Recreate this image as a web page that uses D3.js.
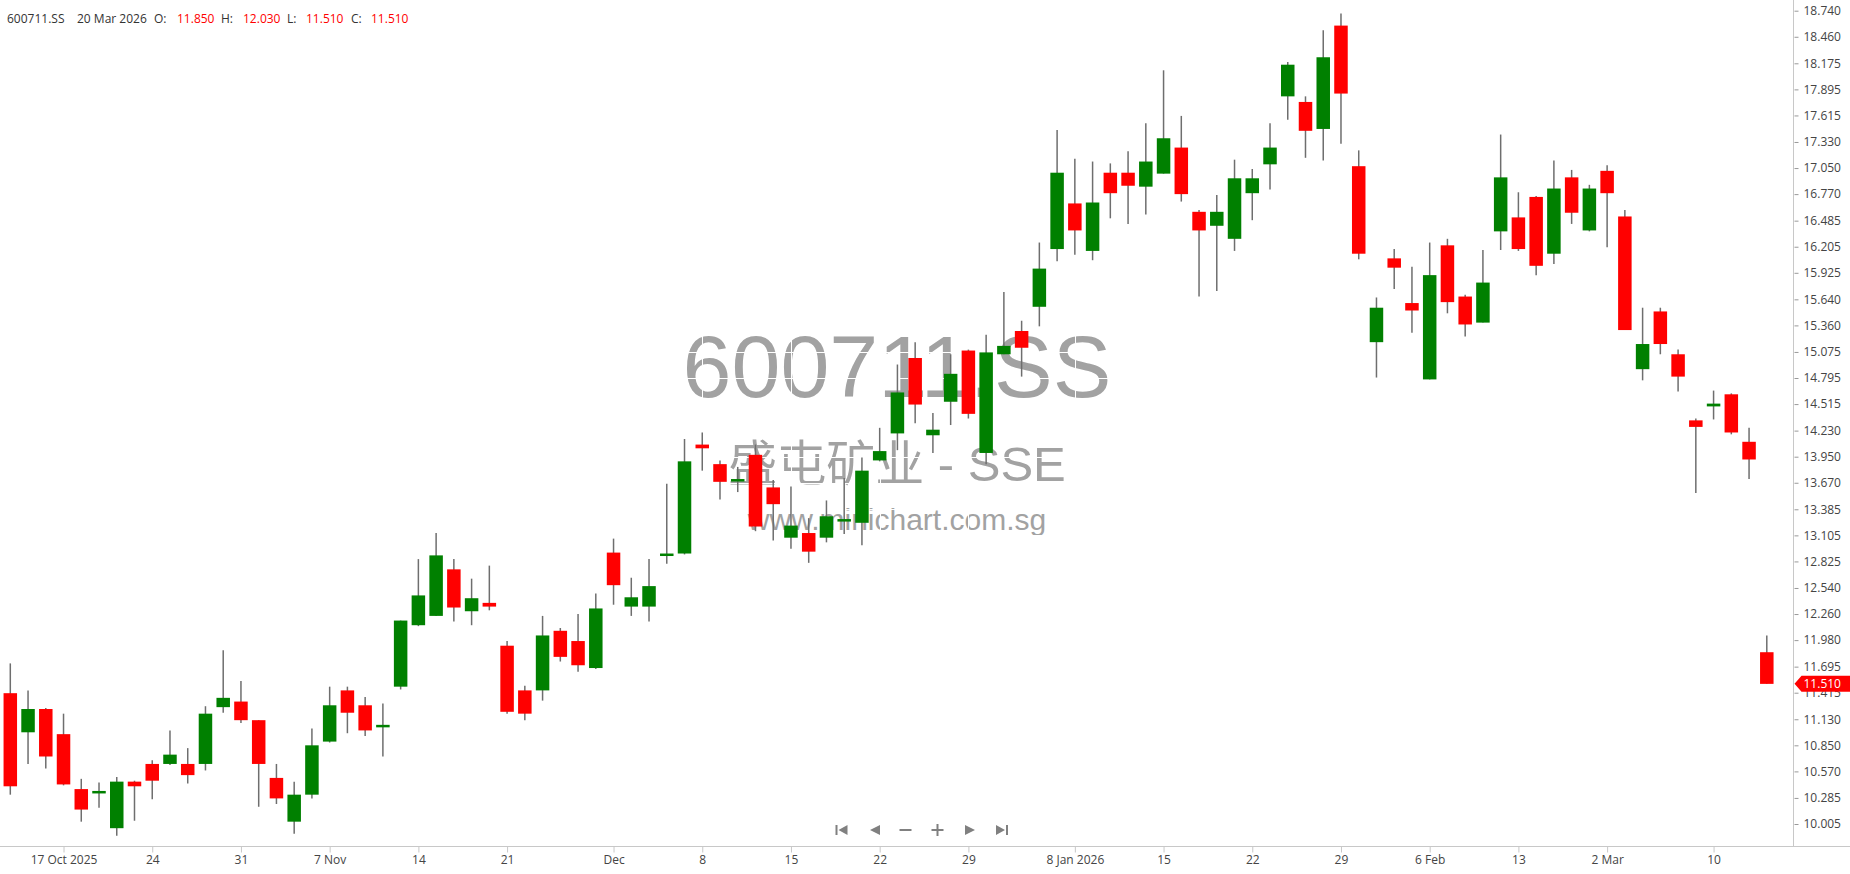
<!DOCTYPE html>
<html>
<head>
<meta charset="utf-8">
<script src="https://cdn.jsdelivr.net/npm/d3@7"></script>
<style>
  body { margin: 0; background: #fff; }
  svg { display: block; font-family: "Open Sans", sans-serif; }
</style>
</head>
<body>
<svg></svg>
<script>
const symbol = "600711.SS";
const lastDate = "20 Mar 2026";
const companyName = "盛屯矿业 - SSE";
const siteName = "www.minichart.com.sg";

// daily OHLC, oldest first (14 Oct 2025 .. 20 Mar 2026)
const open = [
  11.41, 10.99, 11.24, 10.97, 10.38, 10.34, 9.96, 10.46, 10.65, 10.65,
  10.65, 10.65, 11.26, 11.32, 11.12, 10.50, 10.03, 10.32, 10.89, 11.44,
  11.28, 11.05, 11.48, 12.14, 12.24, 12.74, 12.29, 12.38, 11.92, 11.44,
  11.44, 12.08, 11.97, 11.68, 12.92, 12.34, 12.34, 12.89, 12.91, 14.08,
  13.87, 13.69, 13.97, 13.62, 13.08, 13.13, 13.08, 13.26, 13.24, 13.91,
  14.20, 15.01, 14.18, 14.54, 15.09, 13.99, 15.05, 15.30, 15.56, 16.18,
  16.67, 16.16, 17.00, 17.00, 16.85, 16.99, 17.27, 16.58, 16.43, 16.29,
  16.78, 17.09, 17.82, 17.76, 17.47, 18.58, 17.07, 15.18, 16.08, 15.60,
  14.78, 16.22, 15.67, 15.39, 16.37, 16.52, 16.74, 16.13, 16.95, 16.38,
  17.02, 16.53, 14.89, 15.51, 15.05, 14.34, 14.49, 14.62, 14.11, 11.85
];
const high = [
  11.73, 11.44, 11.25, 11.19, 10.49, 10.45, 10.51, 10.47, 10.69, 11.01,
  10.82, 11.27, 11.87, 11.54, 11.12, 10.65, 10.46, 11.03, 11.48, 11.48,
  11.37, 11.30, 12.19, 12.85, 13.13, 12.85, 12.64, 12.78, 11.97, 11.49,
  12.24, 12.11, 12.26, 12.48, 13.07, 12.65, 12.85, 13.66, 14.14, 14.21,
  13.91, 13.84, 14.08, 13.70, 13.63, 13.29, 13.48, 13.72, 13.94, 14.26,
  14.94, 15.18, 14.42, 15.05, 15.10, 15.26, 15.72, 15.41, 16.25, 17.46,
  17.15, 17.12, 17.10, 17.23, 17.53, 18.10, 17.61, 16.60, 16.76, 17.14,
  17.04, 17.53, 18.19, 17.82, 18.53, 18.71, 17.24, 15.66, 16.18, 15.99,
  16.25, 16.29, 15.69, 16.17, 17.41, 16.79, 16.75, 17.13, 17.03, 16.87,
  17.08, 16.60, 15.55, 15.55, 15.10, 14.36, 14.66, 14.63, 14.26, 12.03
];
const low = [
  10.32, 10.65, 10.60, 10.42, 10.03, 10.18, 9.88, 10.04, 10.27, 10.64,
  10.44, 10.58, 11.20, 11.09, 10.19, 10.22, 9.90, 10.28, 10.88, 10.98,
  10.95, 10.73, 11.45, 12.13, 12.24, 12.18, 12.14, 12.30, 11.19, 11.12,
  11.33, 11.75, 11.64, 11.67, 12.36, 12.24, 12.18, 12.80, 12.90, 13.80,
  13.49, 13.57, 13.15, 13.05, 12.96, 12.81, 13.03, 13.12, 13.00, 13.90,
  14.02, 14.31, 13.99, 14.29, 14.36, 13.87, 15.05, 14.81, 15.35, 16.05,
  16.12, 16.06, 16.51, 16.45, 16.55, 16.99, 16.69, 15.67, 15.73, 16.16,
  16.49, 16.82, 17.57, 17.16, 17.13, 17.31, 16.07, 14.80, 15.75, 15.28,
  14.78, 15.49, 15.24, 15.39, 16.17, 16.16, 15.90, 16.02, 16.45, 16.37,
  16.20, 15.31, 14.77, 15.05, 14.65, 13.56, 14.35, 14.19, 13.71, 11.51
];
const close = [
  10.41, 11.24, 10.73, 10.43, 10.16, 10.36, 10.46, 10.41, 10.47, 10.75,
  10.53, 11.19, 11.36, 11.12, 10.65, 10.28, 10.32, 10.85, 11.28, 11.20,
  11.01, 11.07, 12.19, 12.46, 12.89, 12.33, 12.43, 12.34, 11.21, 11.19,
  12.03, 11.80, 11.71, 12.32, 12.57, 12.44, 12.56, 12.91, 13.90, 14.04,
  13.68, 13.71, 13.20, 13.44, 13.21, 12.93, 13.31, 13.28, 13.80, 14.01,
  14.64, 14.51, 14.24, 14.84, 14.41, 15.07, 15.14, 15.12, 15.97, 17.00,
  16.38, 16.68, 16.78, 16.86, 17.12, 17.37, 16.77, 16.38, 16.58, 16.94,
  16.94, 17.27, 18.16, 17.45, 18.24, 17.85, 16.13, 15.55, 15.98, 15.52,
  15.90, 15.61, 15.37, 15.82, 16.95, 16.18, 16.00, 16.83, 16.57, 16.83,
  16.78, 15.31, 15.16, 15.16, 14.81, 14.27, 14.52, 14.21, 13.92, 11.51
];

const yTickLabels = [
  "18.740", "18.460", "18.175", "17.895", "17.615", "17.330", "17.050", "16.770",
  "16.485", "16.205", "15.925", "15.640", "15.360", "15.075", "14.795", "14.515",
  "14.230", "13.950", "13.670", "13.385", "13.105", "12.825", "12.540", "12.260",
  "11.980", "11.695", "11.415", "11.130", "10.850", "10.570", "10.285", "10.005"
];
// x ticks: candle index and its label
const xTickIndex = [3, 8, 13, 18, 23, 28, 34, 39, 44, 49, 54, 60, 65, 70, 75, 80, 85, 90, 96];
const xTickLabels = [
  "17 Oct 2025", "24", "31", "7 Nov", "14", "21", "Dec", "8", "15", "22",
  "29", "8 Jan 2026", "15", "22", "29", "6 Feb", "13", "2 Mar", "10"
];

const candles = open.map((o, i) => ({ i, o, h: high[i], l: low[i], c: close[i] }));
const last = candles[candles.length - 1];

const width = 1850;
const height = 874;
const axisX = 1793.5;
const axisY = 846.5;

const up = "#008000";
const down = "#ff0000";

const svg = d3.select("svg").attr("width", width).attr("height", height);

const x = d3.scaleLinear().domain([0, candles.length - 1]).range([10.3, 1766.8]);
const yVals = yTickLabels.map(Number);
const y = d3.scaleLinear()
  .domain([d3.min(yVals), d3.max(yVals)])
  .range([824, 10.7]);

// watermark
const wm = svg.append("g").attr("fill", "#a2a2a2").attr("text-anchor", "middle");
wm.append("text")
  .attr("x", 897).attr("y", 397)
  .style("font-family", "'Liberation Sans', Arial, sans-serif")
  .style("font-size", "88px")
  .text(symbol);
wm.append("text")
  .attr("x", 897).attr("y", 481)
  .style("font-family", "'Liberation Sans', 'Noto Sans CJK SC', sans-serif")
  .style("font-size", "49px")
  .text(companyName);
wm.append("text")
  .attr("x", 897).attr("y", 530)
  .style("font-family", "'Liberation Sans', Arial, sans-serif")
  .style("font-size", "30px")
  .text(siteName);

// white grid (only visible over the watermark)
const grid = svg.append("g").attr("stroke", "#fff").attr("stroke-width", 1);
grid.selectAll(".gy").data(yVals).join("line")
  .attr("x1", 0).attr("x2", axisX)
  .attr("y1", (d) => Math.round(y(d)) + 0.5).attr("y2", (d) => Math.round(y(d)) + 0.5);
grid.selectAll(".gx").data(xTickIndex).join("line")
  .attr("y1", 0).attr("y2", axisY)
  .attr("x1", (d) => Math.round(x(d)) + 0.5).attr("x2", (d) => Math.round(x(d)) + 0.5);

// candles
const bodyW = 13.5;
const cg = svg.append("g");
cg.selectAll(".wick").data(candles).join("line")
  .attr("class", "wick")
  .attr("x1", (d) => x(d.i)).attr("x2", (d) => x(d.i))
  .attr("y1", (d) => y(d.h)).attr("y2", (d) => y(d.l))
  .attr("stroke", "#6e6e6e")
  .attr("stroke-width", 1.5);
cg.selectAll(".body").data(candles).join("rect")
  .attr("class", "body")
  .attr("x", (d) => x(d.i) - bodyW / 2)
  .attr("width", bodyW)
  .attr("y", (d) => y(Math.max(d.o, d.c)))
  .attr("height", (d) => Math.max(Math.abs(y(d.o) - y(d.c)), 2.5))
  .attr("fill", (d) => (d.c >= d.o ? up : down));

// axes frame
svg.append("line")
  .attr("x1", axisX).attr("x2", axisX).attr("y1", 0).attr("y2", axisY)
  .attr("stroke", "#c8c8c8");
svg.append("line")
  .attr("x1", 0).attr("x2", width).attr("y1", axisY).attr("y2", axisY)
  .attr("stroke", "#c8c8c8");

const yAxis = d3.axisRight(y)
  .tickValues(yVals)
  .tickFormat((d, i) => yTickLabels[i])
  .tickSize(4)
  .tickPadding(5);
const yAxisG = svg.append("g").attr("transform", `translate(${axisX + 1},0)`).call(yAxis);
yAxisG.select(".domain").remove();
yAxisG.selectAll(".tick line").attr("stroke", "#999");
yAxisG.selectAll(".tick text")
  .attr("fill", "#444")
  .style("font-family", "'Open Sans', sans-serif")
  .style("font-size", "12px");

const xAxis = d3.axisBottom(x)
  .tickValues(xTickIndex)
  .tickFormat((d, i) => xTickLabels[i])
  .tickSize(6)
  .tickPadding(3);
const xAxisG = svg.append("g").attr("transform", `translate(0,${axisY})`).call(xAxis);
xAxisG.select(".domain").remove();
xAxisG.selectAll(".tick line").attr("stroke", "#c8c8c8");
xAxisG.selectAll(".tick text")
  .attr("fill", "#444")
  .style("font-family", "'Open Sans', sans-serif")
  .style("font-size", "12px");

// last price tag
const tagY = y(last.c);
svg.append("path")
  .attr("d", `M${axisX + 1},${tagY} L${axisX + 8},${tagY - 8} L${width},${tagY - 8} L${width},${tagY + 8} L${axisX + 8},${tagY + 8} Z`)
  .attr("fill", down);
svg.append("text")
  .attr("x", axisX + 10).attr("y", tagY).attr("dy", "0.35em")
  .attr("fill", "#fff")
  .style("font-size", "12px")
  .text(d3.format(".3f")(last.c));

// navigation buttons
const nav = svg.append("g").attr("fill", "#808080").attr("transform", "translate(0,830)");
const navIcons = [
  { cx: 841.5, d: "M-6,-5 h2 v10 h-2 Z M-3,0 L6,-5 L6,5 Z" },
  { cx: 875, d: "M-5,0 L5,-5 L5,5 Z" },
  { cx: 905.5, d: "M-6,-1 h12 v2 h-12 Z" },
  { cx: 937.5, d: "M-6,-1 h12 v2 h-12 Z M-1,-6 h2 v12 h-2 Z" },
  { cx: 970, d: "M5,0 L-5,-5 L-5,5 Z" },
  { cx: 1002, d: "M6,-5 h-2 v10 h2 Z M3,0 L-6,-5 L-6,5 Z" }
];
nav.selectAll("path").data(navIcons).join("path")
  .attr("transform", (d) => `translate(${d.cx},0)`)
  .attr("d", (d) => d.d);

// header
const fmt = d3.format(".3f");
const header = [
  { x: 7, t: symbol, c: "#333" },
  { x: 77, t: lastDate, c: "#333" },
  { x: 154, t: "O:", c: "#333" },
  { x: 177, t: fmt(last.o), c: down },
  { x: 221, t: "H:", c: "#333" },
  { x: 243, t: fmt(last.h), c: down },
  { x: 287, t: "L:", c: "#333" },
  { x: 306, t: fmt(last.l), c: down },
  { x: 351, t: "C:", c: "#333" },
  { x: 371, t: fmt(last.c), c: down }
];
svg.append("g").selectAll("text").data(header).join("text")
  .attr("x", (d) => d.x).attr("y", 23)
  .attr("fill", (d) => d.c)
  .style("font-size", "12px")
  .text((d) => d.t);
</script>
</body>
</html>
